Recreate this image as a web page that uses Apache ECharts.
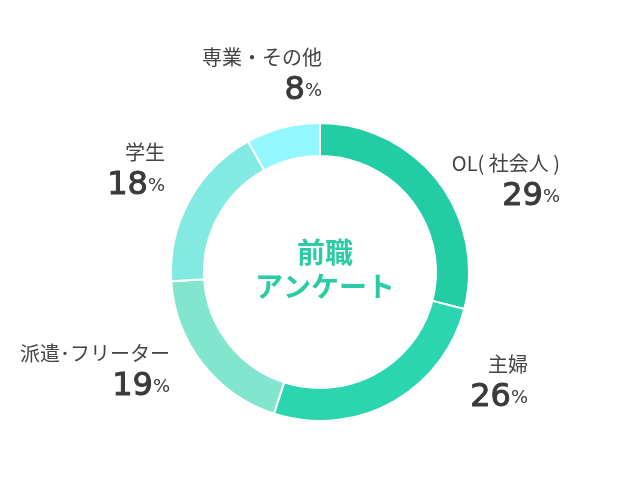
<!DOCTYPE html>
<html>
<head>
<meta charset="utf-8">
<script src="https://cdn.jsdelivr.net/npm/echarts@6/dist/echarts.min.js"></script>
<style>
  html, body { margin: 0; padding: 0; background: #fff; }
  #chart { width: 640px; height: 500px; }
</style>
</head>
<body>
<div id="chart"></div>
<script>
// Clockwise from 12 o'clock.
const CATEGORIES = ['OL( 社会人 )', '主婦', '派遣･フリーター', '学生', '専業・その他'];
const SHARES = [29, 26, 19, 18, 8];
const COLORS = ['#22cda3', '#2bd5af', '#82e5cd', '#82eae1', '#92f8fd'];

// Label anchor: right edge and top of the two-line block.
const LABEL_POS = [
  [560, 148],
  [528, 349],
  [170, 338],
  [165, 137],
  [322, 42],
];

const chart = echarts.init(document.getElementById('chart'));

chart.setOption({
  animation: false,
  title: {
    text: '前職\nアンケート',
    left: 320,
    top: 230,
    textAlign: 'center',
    textStyle: {
      color: '#2acca6',
      fontSize: 28,
      fontWeight: 'bold',
      lineHeight: 34,
      fontFamily: 'Noto Sans CJK JP',
    },
  },
  series: [{
    type: 'pie',
    center: [320, 272],
    radius: [116, 149],
    startAngle: 90,
    clockwise: true,
    silent: true,
    itemStyle: { borderColor: '#fff', borderWidth: 2 },
    labelLine: { show: false },
    label: {
      show: true,
      position: 'outside',
      overflow: 'none',
      formatter: p => `{name|${p.name}}\n{num|${p.value}}{pct|%}`,
      rich: {
        name: {
          fontSize: 20,
          lineHeight: 30,
          color: '#444',
          fontFamily: 'Noto Sans CJK JP',
          align: 'right',
        },
        num: {
          fontSize: 32,
          lineHeight: 38,
          color: '#3a3a3a',
          fontFamily: 'DejaVu Sans',
          textBorderColor: '#3a3a3a',
          textBorderWidth: 1,
          align: 'right',
        },
        pct: {
          fontSize: 18,
          lineHeight: 38,
          color: '#3a3a3a',
          fontFamily: 'DejaVu Sans',
          align: 'right',
        },
      },
    },
    labelLayout: params => ({
      x: LABEL_POS[params.dataIndex][0],
      y: LABEL_POS[params.dataIndex][1],
      align: 'right',
      verticalAlign: 'top',
    }),
    data: CATEGORIES.map((name, i) => ({
      name,
      value: SHARES[i],
      itemStyle: { color: COLORS[i] },
    })),
  }],
});
</script>
</body>
</html>
